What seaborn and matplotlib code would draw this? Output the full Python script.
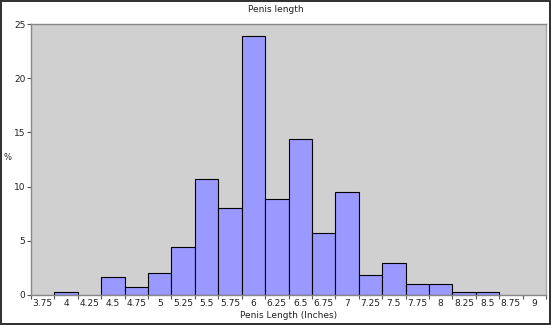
import matplotlib
matplotlib.use("Agg")
import matplotlib.pyplot as plt
import seaborn as sns
import pandas as pd
import numpy as np

categories = ["3.75", "4", "4.25", "4.5", "4.75", "5", "5.25", "5.5", "5.75", "6", "6.25",
              "6.5", "6.75", "7", "7.25", "7.5", "7.75", "8", "8.25", "8.5", "8.75", "9"]
percent = [0.0, 0.3, 0.0, 1.7, 0.77, 2.0, 4.4, 10.7, 8.0, 23.85, 8.83,
           14.38, 5.69, 9.51, 1.82, 2.92, 1.0, 1.0, 0.3, 0.3, 0.0, 0.0]
y_ticks = [0, 5, 10, 15, 20, 25]

sns.set_style("white")
plt.rcParams['font.family'] = ['DejaVu Sans']

df = pd.DataFrame({"len": categories, "pct": percent})

fig = plt.figure(figsize=(5.51, 3.25), dpi=100, linewidth=1.5, edgecolor="#333333")
ax = fig.add_axes([31/551, 1 - 295/325, 515/551, 271/325])
ax.set_facecolor("#d0d0d0")

sns.barplot(data=df, x="len", y="pct", order=categories, color="#9999ff",
            saturation=1, width=1.0, edgecolor="black", linewidth=0.8, ax=ax)
for p in ax.patches:
    if p.get_height() == 0:
        p.set_edgecolor("#7777ee")

ax.set_xlim(-0.5, len(categories) - 0.5)
ax.set_ylim(0, 25)
ax.set_yticks(y_ticks)
ax.set_yticklabels([str(v) for v in y_ticks], fontsize=6.5, color="#222222")
ax.set_xticks(range(len(categories)))
ax.set_xticklabels(categories, fontsize=6.5, color="#222222")
ax.set_xticks(np.arange(-0.5, len(categories), 1.0), minor=True)
ax.tick_params(axis="x", which="major", length=0, pad=3)
ax.tick_params(axis="x", which="minor", length=3, width=0.8, color="#555555", direction="out", bottom=True)
ax.tick_params(axis="y", length=3, width=0.8, color="#555555", direction="out", left=True, pad=1)

for s in ["left", "bottom", "top", "right"]:
    ax.spines[s].set_color("#888888")
    ax.spines[s].set_linewidth(1.0)
ax.spines["right"].set_color("#aaaaaa")

ax.set_xlabel("Penis Length (Inches)", fontsize=6.5, color="#222222", labelpad=2)
ax.set_ylabel("")
fig.text(7/551, 1 - 158/325, "%", fontsize=6, ha="center", va="center", color="#222222")
fig.text(0.5, 1 - 10/325, "Penis length", fontsize=6.5, ha="center", va="center", color="#222222")

fig.savefig("out.png", dpi=100)
